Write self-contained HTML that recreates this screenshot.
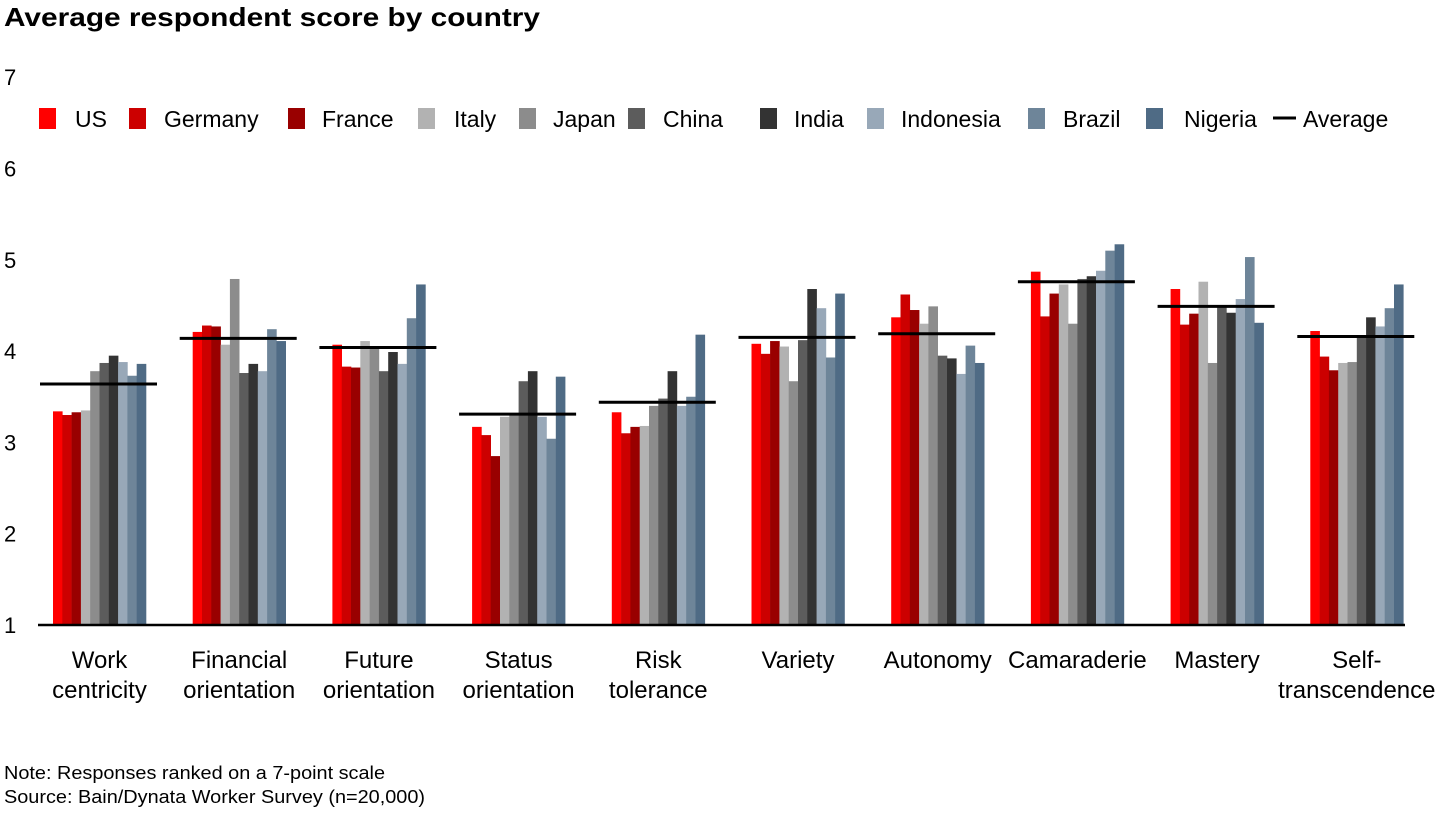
<!DOCTYPE html>
<html><head><meta charset="utf-8"><style>
body{margin:0;background:#fff;font-family:"Liberation Sans",Arial,sans-serif;}
svg text{font-family:"Liberation Sans",Arial,sans-serif;fill:#000;}
</style></head><body>
<svg id="chart" width="1440" height="810" viewBox="0 0 1440 810" xmlns="http://www.w3.org/2000/svg">
<text x="4" y="26" font-size="26" font-weight="bold" textLength="536" lengthAdjust="spacingAndGlyphs">Average respondent score by country</text>
<g id="yaxis"></g>
<g id="legend"></g>
<g id="bars"></g>
<g id="xaxis"></g>
<text x="4" y="779" font-size="18" textLength="381" lengthAdjust="spacingAndGlyphs">Note: Responses ranked on a 7-point scale</text>
<text x="4" y="803" font-size="18" textLength="421" lengthAdjust="spacingAndGlyphs">Source: Bain/Dynata Worker Survey (n=20,000)</text>
</svg>
<script>
const categories=[["Work","centricity"],["Financial","orientation"],["Future","orientation"],["Status","orientation"],["Risk","tolerance"],["Variety"],["Autonomy"],["Camaraderie"],["Mastery"],["Self-","transcendence"]];
const countries=["US","Germany","France","Italy","Japan","China","India","Indonesia","Brazil","Nigeria"];
const colors=["#ff0000","#cc0000","#990000","#b2b2b2","#8c8c8c","#5c5c5c","#333333","#98a8b8","#6e8599","#4f6b85"];
const US=[3.34,4.21,4.07,3.17,3.33,4.08,4.37,4.87,4.68,4.22];
const Germany=[3.30,4.28,3.83,3.08,3.10,3.97,4.62,4.38,4.29,3.94];
const France=[3.33,4.27,3.82,2.85,3.17,4.11,4.45,4.63,4.41,3.79];
const Italy=[3.35,4.07,4.11,3.28,3.18,4.05,4.30,4.73,4.76,3.87];
const Japan=[3.78,4.79,4.03,3.30,3.40,3.67,4.49,4.30,3.87,3.88];
const China=[3.87,3.76,3.78,3.67,3.48,4.12,3.95,4.79,4.48,4.15];
const India=[3.95,3.86,3.99,3.78,3.78,4.68,3.92,4.82,4.42,4.37];
const Indonesia=[3.88,3.78,3.86,3.28,3.40,4.47,3.75,4.88,4.57,4.27];
const Brazil=[3.73,4.24,4.36,3.04,3.50,3.93,4.06,5.10,5.03,4.47];
const Nigeria=[3.86,4.11,4.73,3.72,4.18,4.63,3.87,5.17,4.31,4.73];
const average=[3.64,4.14,4.04,3.31,3.44,4.15,4.19,4.76,4.49,4.16];
const yTicks=[1,2,3,4,5,6,7];
const series=[US,Germany,France,Italy,Japan,China,India,Indonesia,Brazil,Nigeria];
const NS="http://www.w3.org/2000/svg";
const y=v=>625-(v-1)*91.3;
const gx=i=>53+i*139.7;
const bw=9.3;
function mk(tag,attrs,parent){const e=document.createElementNS(NS,tag);for(const k in attrs)e.setAttribute(k,attrs[k]);parent.appendChild(e);return e;}
const yax=document.getElementById('yaxis');
yTicks.forEach(t=>{const e=mk('text',{x:4,y:y(t)+8,'font-size':22},yax);e.textContent=t;

});
const bars=document.getElementById('bars');
categories.forEach((c,i)=>{
 series.forEach((s,j)=>{const r=mk('rect',{x:gx(i)+j*bw,y:y(s[i]),width:bw+0.3,height:625-y(s[i]),fill:colors[j]},bars);
 
 });
 const l=mk('line',{x1:gx(i)-13,x2:gx(i)+104,y1:y(average[i]),y2:y(average[i]),stroke:'#000','stroke-width':3},bars);
 
 
});
const xax=document.getElementById('xaxis');
const base=mk('line',{x1:38,x2:1405,y1:625,y2:625,stroke:'#000','stroke-width':2.5},xax);


categories.forEach((c,i)=>{c.forEach((ln,k)=>{const t=mk('text',{x:gx(i)+46.5,y:668+k*30,'font-size':24,'text-anchor':'middle'},xax);t.textContent=ln;
 
 });});
const lg=document.getElementById('legend');
const lx=[39,129,288,418,519,628,760,867,1028,1146];
const tx=[75,164,322,454,553,663,794,901,1063,1184];
countries.forEach((n,j)=>{const r=mk('rect',{x:lx[j],y:108,width:17,height:21,fill:colors[j]},lg);
 
 
 const t=mk('text',{x:tx[j],y:127,'font-size':23},lg);t.textContent=n;
 
 });
const al=mk('line',{x1:1273,x2:1296,y1:118,y2:118,stroke:'#000','stroke-width':3},lg);


const at=mk('text',{x:1303,y:127,'font-size':23},lg);at.textContent="Average";


</script>
</body></html>
